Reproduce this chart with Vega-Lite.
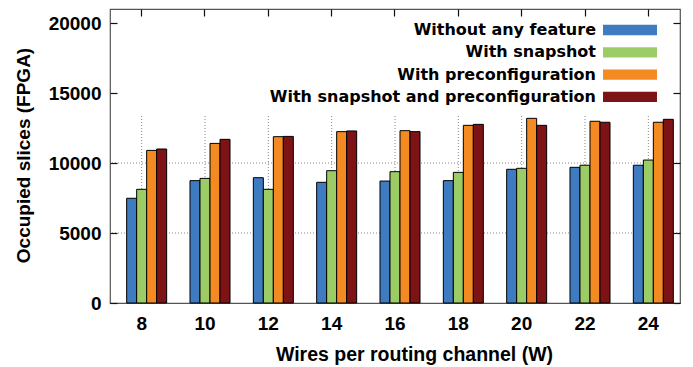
{
  "$schema": "https://vega.github.io/schema/vega-lite/v6.json",
  "width": 570,
  "height": 294,
  "autosize": {"type": "none"},
  "padding": {"left": 110, "top": 9, "right": 13, "bottom": 64},
  "background": "white",
  "config": {
    "view": {"stroke": "#555555", "strokeWidth": 1.2},
    "font": "Liberation Sans"
  },
  "datasets": {
    "bars": [
      {"W": 8, "series": "Without any feature", "slices": 7480},
      {"W": 8, "series": "With snapshot", "slices": 8120},
      {"W": 8, "series": "With preconfiguration", "slices": 10900},
      {"W": 8, "series": "With snapshot and preconfiguration", "slices": 11000},
      {"W": 10, "series": "Without any feature", "slices": 8740},
      {"W": 10, "series": "With snapshot", "slices": 8900},
      {"W": 10, "series": "With preconfiguration", "slices": 11400},
      {"W": 10, "series": "With snapshot and preconfiguration", "slices": 11690},
      {"W": 12, "series": "Without any feature", "slices": 8950},
      {"W": 12, "series": "With snapshot", "slices": 8120},
      {"W": 12, "series": "With preconfiguration", "slices": 11880},
      {"W": 12, "series": "With snapshot and preconfiguration", "slices": 11900},
      {"W": 14, "series": "Without any feature", "slices": 8620},
      {"W": 14, "series": "With snapshot", "slices": 9450},
      {"W": 14, "series": "With preconfiguration", "slices": 12240},
      {"W": 14, "series": "With snapshot and preconfiguration", "slices": 12290},
      {"W": 16, "series": "Without any feature", "slices": 8710},
      {"W": 16, "series": "With snapshot", "slices": 9380},
      {"W": 16, "series": "With preconfiguration", "slices": 12310},
      {"W": 16, "series": "With snapshot and preconfiguration", "slices": 12240},
      {"W": 18, "series": "Without any feature", "slices": 8740},
      {"W": 18, "series": "With snapshot", "slices": 9330},
      {"W": 18, "series": "With preconfiguration", "slices": 12690},
      {"W": 18, "series": "With snapshot and preconfiguration", "slices": 12760},
      {"W": 20, "series": "Without any feature", "slices": 9550},
      {"W": 20, "series": "With snapshot", "slices": 9620},
      {"W": 20, "series": "With preconfiguration", "slices": 13190},
      {"W": 20, "series": "With snapshot and preconfiguration", "slices": 12690},
      {"W": 22, "series": "Without any feature", "slices": 9690},
      {"W": 22, "series": "With snapshot", "slices": 9840},
      {"W": 22, "series": "With preconfiguration", "slices": 12980},
      {"W": 22, "series": "With snapshot and preconfiguration", "slices": 12910},
      {"W": 24, "series": "Without any feature", "slices": 9840},
      {"W": 24, "series": "With snapshot", "slices": 10210},
      {"W": 24, "series": "With preconfiguration", "slices": 12910},
      {"W": 24, "series": "With snapshot and preconfiguration", "slices": 13120}
    ],
    "vgrid": [{"W": 8}, {"W": 10}, {"W": 12}, {"W": 14}, {"W": 16}, {"W": 18}, {"W": 20}, {"W": 22}, {"W": 24}],
    "hgrid": [{"v": 5000}, {"v": 10000}]
  },
  "resolve": {"axis": {"x": "independent", "y": "independent"}},
  "layer": [
    {
      "data": {"name": "hgrid"},
      "mark": {"type": "rule", "color": "#888888", "strokeDash": [1, 2], "strokeWidth": 1},
      "encoding": {
        "y": {"field": "v", "type": "quantitative", "scale": {"domain": [0, 21000], "nice": false, "zero": true},
          "axis": {"orient": "right", "offset": -7, "values": [0, 5000, 10000, 15000, 20000], "labels": false, "title": null, "domain": false, "grid": false, "ticks": true, "tickSize": 7, "tickWidth": 1.2, "tickColor": "#111111", "tickOpacity": 1, "zindex": 1}}
      }
    },
    {
      "data": {"name": "vgrid"},
      "mark": {"type": "rule", "color": "#888888", "strokeDash": [1, 2], "strokeWidth": 1},
      "encoding": {
        "x": {"field": "W", "type": "ordinal",
          "scale": {"paddingInner": 0.2105, "paddingOuter": 0.10525},
          "axis": {"orient": "top", "offset": -7, "labels": false, "title": null, "domain": false, "grid": false, "ticks": true, "tickSize": 7, "tickWidth": 1.2, "tickColor": "#111111", "tickOpacity": 1, "zindex": 1}},
        "y": {"datum": 0, "type": "quantitative", "axis": null},
        "y2": {"datum": 13500}
      }
    },
    {
      "data": {"name": "bars"},
      "mark": {"type": "bar", "stroke": "#000000", "strokeWidth": 1},
      "encoding": {
        "x": {"field": "W", "type": "ordinal",
          "axis": {"orient": "bottom", "title": "Wires per routing channel (W)", "labelAngle": 0, "domain": false, "grid": false, "ticks": false, "tickSize": 0,
            "labelFont": "Liberation Sans", "labelFontWeight": "bold", "labelFontSize": 19, "labelColor": "#000000", "labelPadding": 11,
            "titleFont": "Liberation Sans", "titleFontWeight": "bold", "titleFontSize": 19.5, "titleColor": "#000000",
            "titleX": 304, "titleY": 57, "titleBaseline": "alphabetic", "titleAlign": "center"}},
        "xOffset": {"field": "series", "type": "nominal",
          "scale": {"domain": ["_", "Without any feature", "With snapshot", "With preconfiguration", "With snapshot and preconfiguration"], "paddingInner": 0, "paddingOuter": 0}},
        "y": {"field": "slices", "type": "quantitative",
          "axis": {"orient": "left", "offset": -7, "values": [0, 5000, 10000, 15000, 20000], "format": "d", "title": "Occupied slices (FPGA)", "domain": false, "grid": false, "ticks": true, "tickSize": 7, "tickWidth": 1.2, "tickColor": "#111111", "tickOpacity": 1, "zindex": 1,
            "labelFont": "Liberation Sans", "labelFontWeight": "bold", "labelFontSize": 19, "labelColor": "#000000", "labelPadding": 9,
            "titleFont": "Liberation Sans", "titleFontWeight": "bold", "titleFontSize": 19, "titleColor": "#000000",
            "titleX": -94, "titleY": 146, "titleBaseline": "middle", "titleAlign": "center", "titleAngle": -90}},
        "color": {"field": "series", "type": "nominal",
          "scale": {"domain": ["Without any feature", "With snapshot", "With preconfiguration", "With snapshot and preconfiguration"],
            "range": ["#3e7bc0", "#9ccc65", "#f48a22", "#7e1316"]},
          "legend": {"title": null, "orient": "none", "legendX": 512, "legendY": 13,
            "symbolType": "M-4,-0.76H4V0.76H-4Z", "symbolSize": 182, "symbolStrokeWidth": 0, "symbolOpacity": 1,
            "rowPadding": 6.3,
            "labelFont": "DejaVu Sans", "labelFontWeight": "bold", "labelFontSize": 16, "labelColor": "#000000",
            "labelAlign": "right", "labelOffset": -42, "labelLimit": 400}}
      }
    }
  ]
}
